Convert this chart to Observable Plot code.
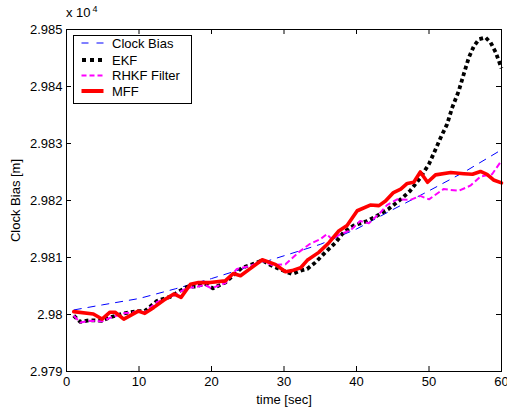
<!DOCTYPE html>
<html><head><meta charset="utf-8">
<script src="https://cdn.jsdelivr.net/npm/d3@7"></script>
<script src="https://cdn.jsdelivr.net/npm/@observablehq/plot@0.6"></script>
<style>
body{margin:0;background:#fff;}
#wrap{position:relative;width:507px;height:408px;font-family:"Liberation Sans",Arial,Helvetica,sans-serif;color:#000;}
#exp{position:absolute;left:66px;top:6px;font-size:13px;line-height:13px;white-space:nowrap;}
#exp sup{font-size:9px;position:relative;top:-3px;vertical-align:top;margin-left:2px;}
#legend{position:absolute;left:73px;top:35px;}
</style></head>
<body><div id="wrap"></div>
<script>
// ---- data (values in units of 10^4 m) ----
const xTicks = [0, 10, 20, 30, 40, 50, 60];
const yTicks = [2.979, 2.980, 2.981, 2.982, 2.983, 2.984, 2.985];
const seriesNames = ["Clock Bias", "EKF", "RHKF Filter", "MFF"];

const clockT = [1, 5, 10, 15, 20, 25, 30, 35, 40, 45, 50, 55, 60];
const clockV = [2.98008, 2.98017, 2.98028, 2.98045, 2.98063, 2.98083, 2.98103, 2.98123, 2.98150, 2.98184, 2.98217, 2.98251, 2.98289];

const ekfT = [1, 1.9, 3.2, 4.9, 6, 7.9, 9.9, 10.8, 12.5, 14.3, 15.7, 16.7, 17.8, 19.1, 20.2, 21.9, 24.2, 25.6, 27, 28.1, 29.7, 31.1, 32.3, 33.2, 34.3, 35.7, 37.1, 38.2, 39.6, 41.5, 42.8, 44.4, 46.1, 47.4, 48.8, 50, 50.7, 51.6, 52.5, 53.2, 54.1, 54.8, 55.5, 56.2, 56.9, 57.8, 58.5, 59.2, 60];
const ekfV = [2.97998, 2.97987, 2.97990, 2.97989, 2.97995, 2.98002, 2.98006, 2.98006, 2.98024, 2.98031, 2.98042, 2.98049, 2.98049, 2.98054, 2.98046, 2.98056, 2.98082, 2.98088, 2.98095, 2.98087, 2.98078, 2.98071, 2.98077, 2.98080, 2.98091, 2.98109, 2.98126, 2.98144, 2.98156, 2.98164, 2.98173, 2.98185, 2.98202, 2.98217, 2.98240, 2.98264, 2.98284, 2.98310, 2.98334, 2.98363, 2.98392, 2.98422, 2.98451, 2.98471, 2.98483, 2.98486, 2.98477, 2.98460, 2.98432];

const rhkfT = [1, 1.9, 3.2, 4.9, 6, 7.9, 9.9, 10.8, 12.5, 14.3, 15.7, 16.7, 17.8, 19.1, 20, 21.9, 23.5, 25.3, 27, 28.3, 30.2, 32, 33.6, 35, 35.9, 36.6, 37.8, 39.2, 40.5, 41.7, 43.3, 44.2, 45.6, 47.4, 48.8, 50, 52, 54.1, 55.7, 57.1, 58.7, 60];
const rhkfV = [2.97998, 2.97986, 2.97989, 2.97988, 2.97994, 2.98002, 2.98005, 2.98004, 2.98022, 2.98030, 2.98040, 2.98047, 2.98048, 2.98052, 2.98046, 2.98055, 2.98080, 2.98085, 2.98094, 2.98087, 2.98088, 2.98109, 2.98124, 2.98132, 2.98141, 2.98132, 2.98141, 2.98148, 2.98164, 2.98160, 2.98179, 2.98192, 2.98202, 2.98201, 2.98208, 2.98202, 2.98220, 2.98217, 2.98226, 2.98242, 2.98246, 2.98270];

const mffT = [1, 3.7, 4.9, 6, 6.7, 7.9, 9.9, 10.8, 12, 13.4, 14.8, 15.8, 17.1, 18.2, 19.8, 21.9, 23, 24, 25.3, 27, 28.8, 30.2, 31.1, 32.3, 33.2, 34.8, 36.2, 37.5, 38.7, 40.1, 41.9, 43.1, 44, 45.1, 46.1, 47, 47.9, 48.8, 49.8, 50.9, 53, 54.8, 56, 57.1, 58, 58.9, 60];
const mffV = [2.98005, 2.98001, 2.97992, 2.98004, 2.98004, 2.97992, 2.98006, 2.98002, 2.98012, 2.98025, 2.98036, 2.98030, 2.98053, 2.98056, 2.98056, 2.98059, 2.98072, 2.98068, 2.98080, 2.98096, 2.98088, 2.98075, 2.98077, 2.98082, 2.98095, 2.98109, 2.98126, 2.98146, 2.98156, 2.98182, 2.98192, 2.98191, 2.98199, 2.98214, 2.98220, 2.98230, 2.98232, 2.98250, 2.98232, 2.98245, 2.98249, 2.98247, 2.98246, 2.98251, 2.98246, 2.98236, 2.98231];

// ---- build ----
const rows = (T, V) => T.map((t, i) => ({t, v: V[i]}));
const W = 507, H = 408, mL = 66, mR = 6, mT = 29, mB = 37;
const innerW = W - mL - mR, innerH = H - mT - mB;

const styles = [
  {stroke: "#0000ff", strokeWidth: 1, strokeDasharray: "8,6", strokeLinecap: "butt"},
  {stroke: "#000000", strokeWidth: 3.8, strokeDasharray: "3.8,3", strokeLinecap: "butt"},
  {stroke: "#ff00ff", strokeWidth: 2, strokeDasharray: "6,3", strokeLinecap: "butt"},
  {stroke: "#ff0000", strokeWidth: 3.6, strokeLinecap: "round"}
];
const datasets = [rows(clockT, clockV), rows(ekfT, ekfV), rows(rhkfT, rhkfV), rows(mffT, mffV)];

const plot = Plot.plot({
  width: W, height: H,
  marginLeft: mL, marginRight: mR, marginTop: mT, marginBottom: mB,
  style: {fontFamily: "'Liberation Sans', Arial, Helvetica, sans-serif", fontSize: "13px", background: "#fff", color: "#000", overflow: "visible"},
  x: {domain: [0, 60]},
  y: {domain: [2.979, 2.985]},
  marks: [
    ...datasets.map((d, i) => Plot.line(d, {x: "t", y: "v", ...styles[i], strokeLinejoin: "round"})),
    Plot.frame({stroke: "#000", strokeWidth: 1}),
    Plot.ruleX(xTicks, {insetTop: innerH - 5, stroke: "#000"}),
    Plot.ruleX(xTicks, {insetBottom: innerH - 5, stroke: "#000"}),
    Plot.ruleY(yTicks, {insetRight: innerW - 5, stroke: "#000"}),
    Plot.ruleY(yTicks, {insetLeft: innerW - 5, stroke: "#000"}),
    Plot.axisX(xTicks, {tickSize: 0, tickPadding: 5, label: "time [sec]", labelAnchor: "center", labelArrow: "none", labelOffset: 32, fontSize: 13}),
    Plot.axisY(yTicks, {tickSize: 0, tickPadding: 4, tickFormat: d => String(+d.toFixed(3)), label: "Clock Bias [m]", labelAnchor: "center", labelArrow: "none", labelOffset: 56, fontSize: 13})
  ]
});

const wrap = document.getElementById("wrap");
wrap.appendChild(plot);

// exponent label
const exp = document.createElement("div");
exp.id = "exp";
exp.innerHTML = "x 10<sup>4</sup>";
wrap.appendChild(exp);

// legend
const lg = d3.select(wrap).append("div").attr("id", "legend")
  .append("svg").attr("width", 120).attr("height", 70);
lg.append("rect").attr("x", 0.5).attr("y", 0.5).attr("width", 118).attr("height", 68)
  .attr("fill", "#fff").attr("stroke", "#000");
const rowY = [8, 25, 40.5, 56];
const sampleDash = ["7,8", "4,4", "5,3", null];
seriesNames.forEach((name, i) => {
  const s = styles[i];
  const ln = lg.append("line").attr("x1", i === 1 ? 9 : 8.5).attr("x2", 30.5)
    .attr("y1", rowY[i]).attr("y2", rowY[i])
    .attr("stroke", s.stroke).attr("stroke-width", i === 1 ? 4 : (i === 3 ? 4 : s.strokeWidth));
  if (sampleDash[i]) ln.attr("stroke-dasharray", sampleDash[i]);
  lg.append("text").attr("x", 39).attr("y", rowY[i] + 4.6).text(name)
    .attr("font-size", 13).attr("font-family", "'Liberation Sans', Arial, sans-serif");
});
</script>
</body></html>
